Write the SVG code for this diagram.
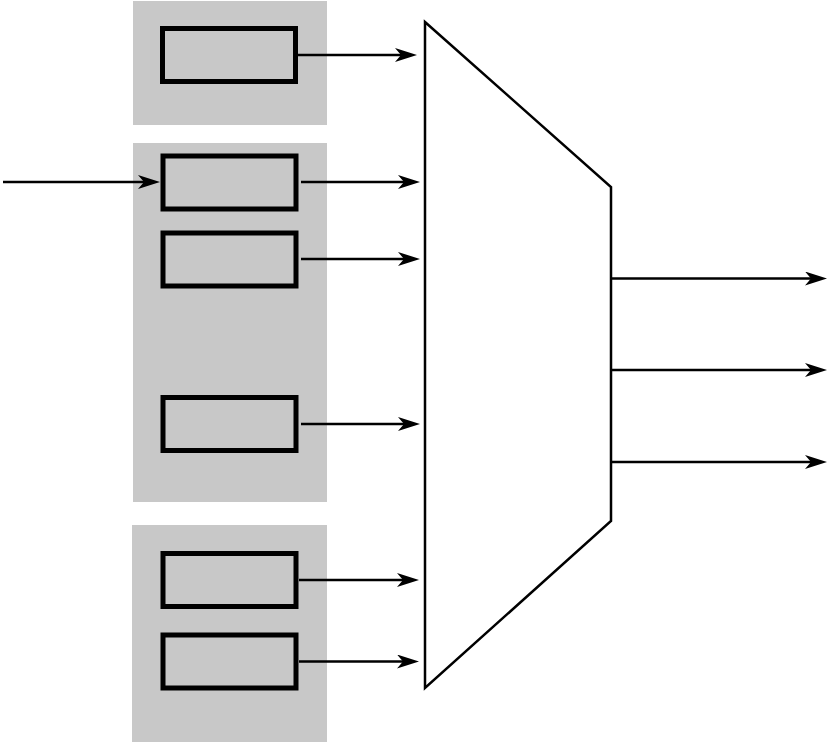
<svg xmlns="http://www.w3.org/2000/svg" width="829" height="750" viewBox="0 0 829 750">
<style>
.grp{fill:#c8c8c8;stroke:none}
.box{fill:#c8c8c8;stroke:#000;stroke-width:5}
.mux{fill:#fff;stroke:#000;stroke-width:2.5;stroke-linejoin:miter}
.conn{fill:none;stroke:#000;stroke-width:2.5}
</style>
<defs>
<marker id="ah" markerUnits="userSpaceOnUse" viewBox="0 0 22 14" refX="12" refY="7" markerWidth="22" markerHeight="14" orient="auto">
<path d="M0,0 L22,7 L0,14 L6,7 z" fill="#000"/>
</marker>
</defs>
<g id="group1"><rect class="grp" x="133" y="1" width="194" height="124"/></g>
<g id="group2"><rect class="grp" x="133" y="143" width="194" height="359"/></g>
<g id="group3"><rect class="grp" x="132" y="525" width="195" height="217"/></g>
<g id="box1"><rect class="box" x="162.5" y="28.5" width="133" height="53"/></g>
<g id="box2"><rect class="box" x="163" y="156" width="133" height="53"/></g>
<g id="box3"><rect class="box" x="163" y="233" width="133" height="53"/></g>
<g id="box4"><rect class="box" x="163" y="397.5" width="133" height="53"/></g>
<g id="box5"><rect class="box" x="163" y="553.5" width="133" height="53"/></g>
<g id="box6"><rect class="box" x="163" y="635" width="133" height="53"/></g>
<g id="mux"><path class="mux" d="M425,22 L611,187 L611,521 L425,688 Z"/></g>
<g id="connectors">
<path class="conn" marker-end="url(#ah)" d="M3,182 L150,182"/>
<path class="conn" marker-end="url(#ah)" d="M298,55 L407,55"/>
<path class="conn" marker-end="url(#ah)" d="M301,182 L410,182"/>
<path class="conn" marker-end="url(#ah)" d="M301,259 L410,259"/>
<path class="conn" marker-end="url(#ah)" d="M301,424 L410,424"/>
<path class="conn" marker-end="url(#ah)" d="M299,580 L409,580"/>
<path class="conn" marker-end="url(#ah)" d="M299,661.5 L409,661.5"/>
<path class="conn" marker-end="url(#ah)" d="M611,278.5 L817,278.5"/>
<path class="conn" marker-end="url(#ah)" d="M611,370 L817,370"/>
<path class="conn" marker-end="url(#ah)" d="M611,462 L817,462"/>
</g>
</svg>
